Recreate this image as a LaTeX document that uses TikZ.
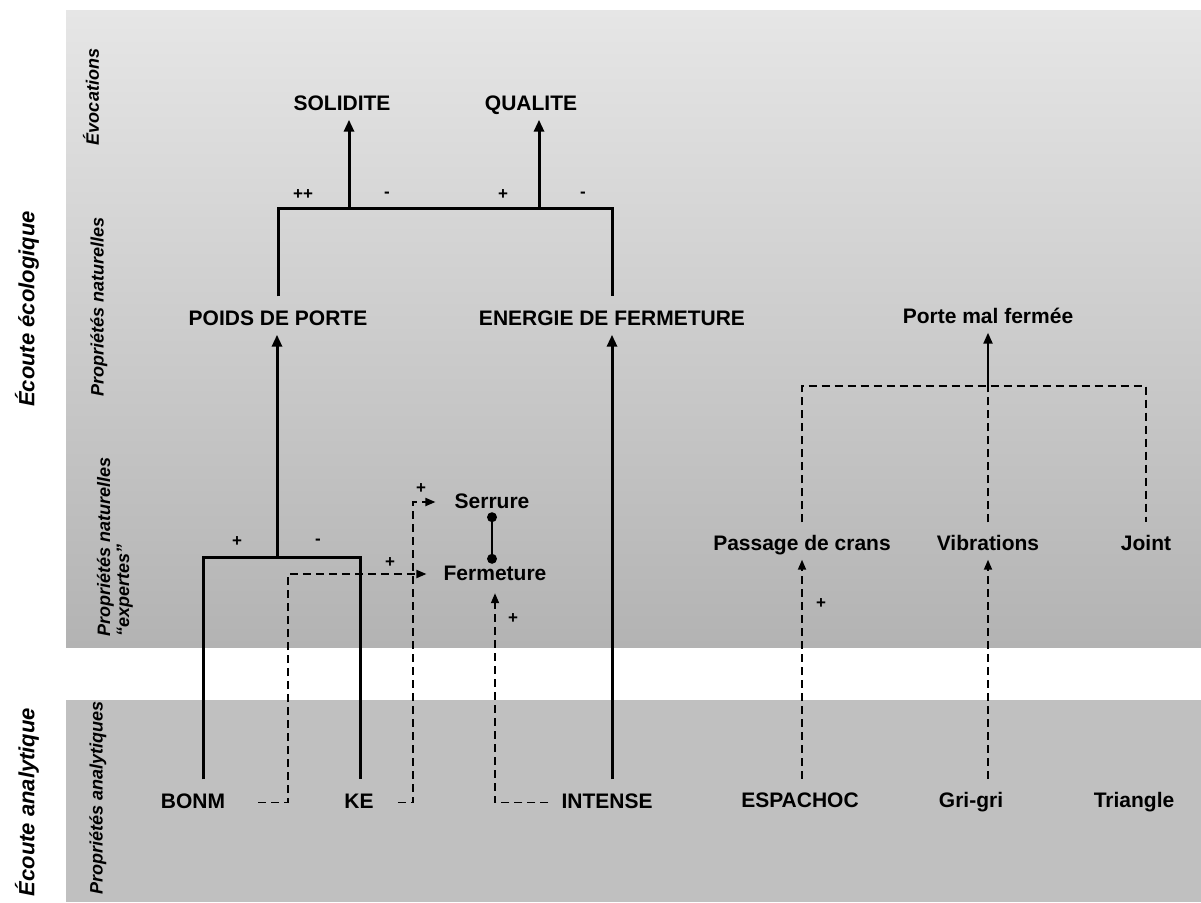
\documentclass[tikz,border=0pt]{standalone}
\usepackage{fontspec}
\setmainfont{Liberation Sans}
\usetikzlibrary{arrows.meta, positioning}
\definecolor{bandtop}{HTML}{E6E6E6}
\definecolor{bandbottom}{HTML}{B3B3B3}
\definecolor{bandana}{HTML}{C0C0C0}

\begin{document}
\begin{tikzpicture}[x=1pt, y=-1pt,
        concept/.style={font=\bfseries\fontsize{21}{24}\selectfont, text height=15pt, text depth=3pt, inner xsep=2pt, inner ysep=6pt},
        levelname/.style={rotate=90, font=\bfseries\itshape\fontsize{18}{19}\selectfont, align=left, inner sep=0pt},
        listening/.style={rotate=90, font=\bfseries\itshape\fontsize{22}{24}\selectfont, inner sep=0pt},
        sign/.style={font=\bfseries\fontsize{17}{18}\selectfont, inner sep=0pt},
        link/.style={line width=3pt},
        arrow/.style={-{Triangle[length=12pt, width=10pt]}, line width=3pt},
        dlink/.style={line width=1.8pt, dash pattern=on 8pt off 5pt},
        darrow/.style={-{Triangle[length=10pt, width=8pt]}, line width=1.8pt, dash pattern=on 8pt off 5pt}
    ]
        \useasboundingbox (0,0) rectangle (1201,902);
        \shade[top color=bandtop, bottom color=bandbottom] (66,10) rectangle (1201,647);
        \fill[bandana] (66,700) rectangle (1201,902);

        \node[listening] (ecolo) at (27,309) {Écoute écologique};
        \node[listening] (analy) at (27,802) {Écoute analytique};
        \node[levelname] (evoc) at (91,97) {Évocations};
        \node[levelname] (nat) at (99,307) {Propriétés naturelles};
        \node[levelname] (expert) at (115,547) {Propriétés naturelles\\``expertes''};
        \node[levelname] (ana) at (98,798) {Propriétés analytiques};

        \node[concept] (sol) at (342,104.5) {SOLIDITE};
        \node[concept] (qual) at (531,104.5) {QUALITE};
        \node[concept] (poids) at (278,319.5) {POIDS DE PORTE};
        \node[concept] (ener) at (612,319.5) {ENERGIE DE FERMETURE};
        \node[concept] (porte) at (988,317.5) {Porte mal fermée};
        \node[concept] (serr) at (492,502) {Serrure};
        \node[concept] (ferm) at (495,574) {Fermeture};
        \node[concept] (pass) at (802,544.5) {Passage de crans};
        \node[concept] (vib) at (988,544.5) {Vibrations};
        \node[concept] (joint) at (1146,544.5) {Joint};
        \node[concept] (bonm) at (193,802.5) {BONM};
        \node[concept] (ke) at (359,802.5) {KE};
        \node[concept] (intense) at (607,802.5) {INTENSE};
        \node[concept] (espa) at (800,801.5) {ESPACHOC};
        \node[concept] (gri) at (971,801.5) {Gri-gri};
        \node[concept] (tri) at (1134,801.5) {Triangle};

        \coordinate (topbar) at (445,208);
        \coordinate (solfoot) at (349,208);
        \coordinate (qualfoot) at (539,208);
        \coordinate (lowbar) at (277,557);
        \coordinate (bl) at (203,557);
        \coordinate (br) at (360,557);
        \coordinate (c1) at (288,574);
        \coordinate (c2) at (413,502);
        \coordinate (pbar) at (988,386);

        \draw[link] ([yshift=8pt]poids.north) |- (topbar) -| ([yshift=8pt]ener.north);
        \draw[arrow] (solfoot) -- (solfoot |- sol.south);
        \draw[arrow] (qualfoot) -- (qualfoot |- qual.south);
        \draw[link] ([yshift=8pt]bl |- bonm.north) -- (bl) -- (br) -- ([yshift=8pt]br |- ke.north);
        \draw[arrow] (lowbar) -- (lowbar |- poids.south);
        \draw[arrow] ([yshift=8pt]intense.north -| ener.south) -- (ener.south);

        \draw[darrow] ([xshift=31pt]bonm.east) -| (c1) -- ([xshift=-15pt]ferm.west);
        \draw[darrow] ([xshift=22pt]ke.east) -| (c2) -- ([xshift=-17pt]serr.west);
        \draw[darrow] ([xshift=-11pt]intense.west) -| ([yshift=-4pt]ferm.south);
        \draw[link, line width=2.5pt] (serr.south) -- (serr.south |- ferm.north);
        \fill (serr.south) circle (5pt);
        \fill (serr.south |- ferm.north) circle (5pt);

        \draw[dlink] ([yshift=7pt]pass.north) |- (pbar) -| ([yshift=7pt]joint.north);
        \draw[dlink] ([yshift=7pt]vib.north) -- (pbar);
        \draw[link, line width=2.2pt, -{Triangle[length=11pt, width=9pt]}] (pbar) -- (porte.south);
        \draw[darrow] ([yshift=7.5pt]espa.north -| pass.south) -- (pass.south);
        \draw[darrow] ([yshift=7.5pt]gri.north -| vib.south) -- (vib.south);

        \node[sign] (s1) at (303,195) {++};
        \node[sign] (s2) at (387,195) {-};
        \node[sign] (s3) at (503,195) {+};
        \node[sign] (s4) at (583,195) {-};
        \node[sign] (s5) at (237,542) {+};
        \node[sign] (s6) at (318,542) {-};
        \node[sign] (s7) at (390,563) {+};
        \node[sign] (s8) at (421,489) {+};
        \node[sign] (s9) at (513,619) {+};
        \node[sign] (s10) at (821,604) {+};
    \end{tikzpicture}
\end{document}
